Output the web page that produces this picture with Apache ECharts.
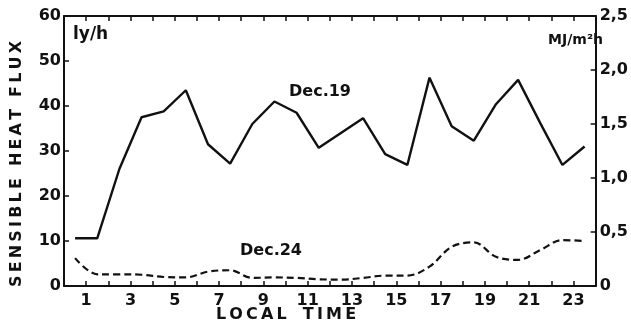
<!DOCTYPE html>
<html>
<head>
<meta charset="utf-8">
<script src="https://cdn.jsdelivr.net/npm/echarts@6/dist/echarts.min.js"></script>
<style>
  html, body { margin: 0; padding: 0; background: #fff; }
  #chart { width: 631px; height: 329px; }
</style>
</head>
<body>
<div id="chart"></div>
<script>
// Hourly mean sensible heat flux (ly/h), plotted at the middle of each hour
const hours = [0.5, 1.5, 2.5, 3.5, 4.5, 5.5, 6.5, 7.5, 8.5, 9.5, 10.5, 11.5,
               12.5, 13.5, 14.5, 15.5, 16.5, 17.5, 18.5, 19.5, 20.5, 21.5, 22.5, 23.5];
const dec19 = [10.6, 10.6, 26.0, 37.5, 38.8, 43.5, 31.5, 27.2, 36.0, 41.0, 38.5, 30.7,
               34.0, 37.3, 29.3, 26.9, 46.3, 35.5, 32.3, 40.4, 45.8, 36.2, 26.9, 31.0];
const dec24 = [6.2, 2.6, 2.6, 2.5, 2.0, 1.9, 3.2, 3.5, 1.8, 1.9, 1.8, 1.5,
               1.4, 1.8, 2.3, 2.3, 4.3, 8.7, 9.7, 6.5, 5.8, 8.0, 10.2, 10.0];

const xTickLabels = ['1', '3', '5', '7', '9', '11', '13', '15', '17', '19', '21', '23'];
const leftTickLabels = ['0', '10', '20', '30', '40', '50', '60'];
const rightTickLabels = ['0', '0,5', '1,0', '1,5', '2,0', '2,5'];

const FONT = 'DejaVu Sans';
const INK = '#111';

const pairs = (ys) => hours.map((h, i) => [h, ys[i]]);
const spaced = (s) => s.split('').join('\u2009');

const chart = echarts.init(document.getElementById('chart'), null, { renderer: 'canvas' });

const frameLine = { show: true, onZero: false, lineStyle: { color: INK, width: 2 } };
const inTick = { show: true, inside: true, length: 5, lineStyle: { color: INK, width: 1.5 } };

chart.setOption({
  animation: false,
  backgroundColor: '#fff',
  grid: { left: 64, right: 27, top: 16, bottom: 43 },
  xAxis: [
    {
      type: 'value', min: 0, max: 24, interval: 1, position: 'bottom',
      axisLine: frameLine, axisTick: inTick, splitLine: { show: false },
      axisLabel: {
        color: INK, fontFamily: FONT, fontWeight: 'bold', fontSize: 16, margin: 7,
        formatter: (v) => (xTickLabels.includes(String(v)) ? String(v) : '')
      }
    },
    {
      type: 'value', min: 0, max: 24, interval: 1, position: 'top',
      axisLine: frameLine, axisTick: inTick, splitLine: { show: false },
      axisLabel: { show: false }
    }
  ],
  yAxis: [
    {
      type: 'value', min: 0, max: 60, interval: 10, position: 'left',
      axisLine: frameLine, axisTick: inTick, splitLine: { show: false },
      axisLabel: {
        color: INK, fontFamily: FONT, fontWeight: 'bold', fontSize: 16, margin: 3,
        formatter: (v) => leftTickLabels[Math.round(v / 10)]
      }
    },
    {
      type: 'value', min: 0, max: 2.5, interval: 0.5, position: 'right',
      axisLine: frameLine, axisTick: inTick, splitLine: { show: false },
      axisLabel: {
        color: INK, fontFamily: FONT, fontWeight: 'bold', fontSize: 16, margin: 4,
        formatter: (v) => rightTickLabels[Math.round(v / 0.5)]
      }
    }
  ],
  series: [
    {
      name: 'Dec.19', type: 'line', xAxisIndex: 0, yAxisIndex: 0,
      data: pairs(dec19), showSymbol: false, smooth: false,
      lineStyle: { color: INK, width: 2.4 }
    },
    {
      name: 'Dec.24', type: 'line', xAxisIndex: 0, yAxisIndex: 0,
      data: pairs(dec24), showSymbol: false, smooth: 0.35,
      lineStyle: { color: INK, width: 2.2, type: [7, 4] }
    }
  ],
  graphic: [
    {
      type: 'text', x: 17, y: 164, rotation: Math.PI / 2,
      style: {
        text: spaced('SENSIBLE HEAT FLUX'), fontFamily: FONT, fontWeight: 'bold', fontSize: 16,
        fill: INK, align: 'center', verticalAlign: 'middle'
      }
    },
    {
      type: 'text', x: 286, y: 315,
      style: {
        text: spaced('LOCAL') + '\u2003' + spaced('TIME'), fontFamily: FONT, fontWeight: 'bold', fontSize: 16,
        fill: INK, align: 'center', verticalAlign: 'middle'
      }
    },
    {
      type: 'text', x: 73, y: 35,
      style: { text: 'ly/h', fontFamily: FONT, fontWeight: 'bold', fontSize: 17, fill: INK, align: 'left', verticalAlign: 'middle' }
    },
    {
      type: 'text', x: 603, y: 40,
      style: { text: 'MJ/m²h', fontFamily: FONT, fontWeight: 'bold', fontSize: 14, fill: INK, align: 'right', verticalAlign: 'middle' }
    },
    {
      type: 'text', x: 320, y: 92,
      style: { text: 'Dec.19', fontFamily: FONT, fontWeight: 'bold', fontSize: 16, fill: INK, align: 'center', verticalAlign: 'middle' }
    },
    {
      type: 'text', x: 271, y: 251,
      style: { text: 'Dec.24', fontFamily: FONT, fontWeight: 'bold', fontSize: 16, fill: INK, align: 'center', verticalAlign: 'middle' }
    }
  ]
});
</script>
</body>
</html>
